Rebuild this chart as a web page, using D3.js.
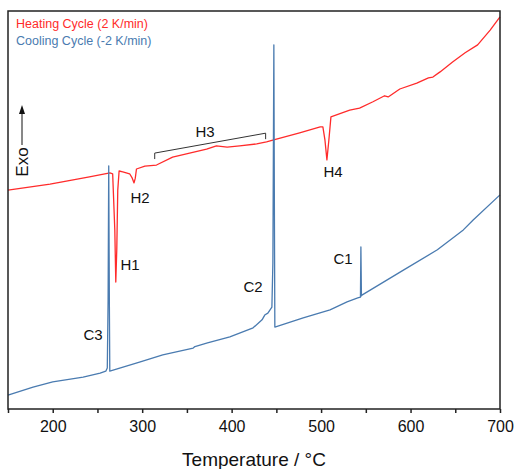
<!DOCTYPE html>
<html lang="en">
	<head>
		<meta charset="utf-8">
		<title>DSC Heating and Cooling</title>
		<script type="text/javascript" src="https://cdn.jsdelivr.net/npm/d3@7/dist/d3.min.js"></script>
		<style type="text/css">
			body { margin: 0; background: #fff; }
			text { font-family: "Liberation Sans", Arial, sans-serif; }
		</style>
	</head>
	<body>
		<script type="text/javascript">

			//Width and height
			var w = 514;
			var h = 469;

			//heating cycle, temperature (°C) and heat flow (arb. units)
			var heatT = [150, 197, 241, 264, 267, 269.4, 270.5, 271.6, 272.7, 274.2, 278.3, 286, 288.9, 290.9, 292.3, 293.6,
				303, 316, 334, 353, 372, 383, 395, 409, 428, 439, 447, 476, 499, 502, 504.3, 506.5, 508.7, 511,
				532, 543, 558, 571, 575, 588, 607, 620, 625, 633, 647, 661, 675, 689, 700];
			var heatV = [55.0, 56.5, 58.3, 59.3, 59.1, 45.0, 31.9, 40.0, 55.0, 59.8, 59.6, 59.1, 58.0, 56.8, 58.0, 60.3,
				61.0, 61.3, 63.3, 64.3, 65.3, 66.1, 65.8, 66.1, 66.6, 67.1, 67.6, 69.4, 70.9, 70.9, 67.6, 62.6, 67.6, 73.4,
				75.1, 75.6, 77.2, 78.7, 78.4, 80.4, 81.9, 83.2, 83.4, 84.7, 87.2, 89.5, 91.5, 95.2, 98.5];

			//cooling cycle
			var coolT = [150, 178, 200, 234, 253, 259.3, 261, 261.9, 262.6, 263.3, 263.8, 297, 323, 357, 359, 373, 398,
				424, 434, 437, 440.5, 445, 446.1, 447.2, 447.8, 448.3, 480, 510, 529, 541, 544, 544.5, 545.1, 545.6,
				592, 630, 659, 670, 700];
			var coolV = [3.5, 5.5, 6.8, 8.0, 9.0, 9.5, 10.3, 27.4, 61.1, 27.0, 9.5, 11.8, 13.6, 15.3, 15.7, 16.6, 18.1,
				20.4, 22.4, 23.6, 24.1, 25.6, 36.7, 91.5, 50.0, 20.6, 22.9, 24.9, 26.9, 27.9, 28.1, 40.7, 28.4, 28.6,
				34.9, 40.0, 45.0, 47.5, 53.8];

			//peak labels
			var peakNames = ["H1", "H2", "H3", "H4", "C1", "C2", "C3"];
			var peakT = [286.4, 297.6, 370.2, 513.3, 524.5, 423.9, 245];
			var peakV = [36.2, 53.0, 69.6, 59.6, 37.7, 30.7, 18.8];

			//bracket over H3
			var bracketT = [314, 314, 438, 438];
			var bracketV = [62.8, 64.3, 69.3, 67.8];

			var tickVals = d3.range(150, 701, 50);

			var legendNames = ["Heating Cycle (2 K/min)", "Cooling Cycle (-2 K/min)"];
			var colors = ["#ff2b2b", "#4a7bb0"];

			//plot box
			var padL = 8, padR = 500, padT = 11, padB = 409;

			var svg = d3.select("body")
						.append("svg")
						.attr("width", w)
						.attr("height", h);

			var xScale = d3.scaleLinear()
							.domain([150, 700])
							.range([padL, padR]);

			var yScale = d3.scaleLinear()
							.domain([0, 100])
							.range([padB, padT]);

			//x axis
			var xAxis = d3.axisBottom(xScale)
						.tickValues(tickVals)
						.tickSize(4)
						.tickSizeOuter(0)
						.tickFormat(function(d){
							return d % 100 == 0 ? d : "";
						});

			var gx = svg.append("g")
				.attr("transform", "translate(0," + padB + ")")
				.call(xAxis);
			gx.select(".domain").remove();
			gx.selectAll("line")
				.attr("stroke", "#222")
				.attr("stroke-width", 1.5);
			gx.selectAll("text")
				.attr("font-family", "Liberation Sans, Arial, sans-serif")
				.attr("font-size", 16)
				.attr("fill", "#111")
				.attr("dy", "1.0em");

			//data lines
			var line = d3.line()
						.x(function(d){ return xScale(d[0]); })
						.y(function(d){ return yScale(d[1]); });

			var series = [d3.zip(heatT, heatV), d3.zip(coolT, coolV)];

			svg.selectAll(".curve")
				.data(series)
				.enter()
				.append("path")
				.attr("class", "curve")
				.attr("d", line)
				.attr("fill", "none")
				.attr("stroke", function(d, i){ return colors[i]; })
				.attr("stroke-width", 1.3)
				.attr("stroke-linejoin", "round");

			//frame
			svg.append("rect")
				.attr("x", padL)
				.attr("y", padT)
				.attr("width", padR - padL)
				.attr("height", padB - padT)
				.attr("fill", "none")
				.attr("stroke", "#222")
				.attr("stroke-width", 1.5);

			//H3 bracket
			svg.append("path")
				.attr("d", line(d3.zip(bracketT, bracketV)))
				.attr("fill", "none")
				.attr("stroke", "#333")
				.attr("stroke-width", 1);

			//peak labels
			svg.selectAll(".peak")
				.data(peakNames)
				.enter()
				.append("text")
				.attr("class", "peak")
				.attr("x", function(d, i){ return xScale(peakT[i]); })
				.attr("y", function(d, i){ return yScale(peakV[i]); })
				.attr("text-anchor", "middle")
				.attr("dy", "0.36em")
				.attr("font-size", 15)
				.attr("fill", "#111")
				.text(function(d){ return d; });

			//legend
			svg.selectAll(".legend")
				.data(legendNames)
				.enter()
				.append("text")
				.attr("class", "legend")
				.attr("x", 16)
				.attr("y", function(d, i){ return 28 + i * 16.5; })
				.attr("font-size", 12.5)
				.attr("fill", function(d, i){ return colors[i]; })
				.text(function(d){ return d; });

			//axis title
			svg.append("text")
				.attr("x", (padL + padR) / 2)
				.attr("y", 466)
				.attr("text-anchor", "middle")
				.attr("font-size", 19)
				.attr("fill", "#111")
				.text("Temperature / °C");

			//Exo label with arrow
			svg.append("text")
				.attr("transform", "translate(28,162) rotate(-90)")
				.attr("text-anchor", "middle")
				.attr("font-size", 17)
				.attr("fill", "#111")
				.text("Exo");

			svg.append("line")
				.attr("x1", 22).attr("y1", 145)
				.attr("x2", 22).attr("y2", 112)
				.attr("stroke", "#111")
				.attr("stroke-width", 1);

			svg.append("path")
				.attr("d", "M22,105 L19,114 L25,114 Z")
				.attr("fill", "#111");

		</script>
	</body>
</html>
